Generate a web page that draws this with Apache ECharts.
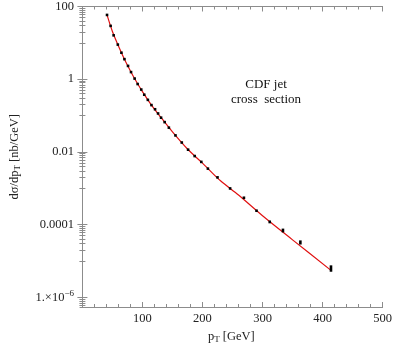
<!DOCTYPE html>
<html>
<head>
<meta charset="utf-8">
<script src="https://cdn.jsdelivr.net/npm/echarts@6/dist/echarts.min.js"></script>
<style>
  html, body { margin: 0; padding: 0; background: #fff; }
  #chart { width: 395px; height: 349px; }
</style>
</head>
<body>
<div id="chart"></div>
<script>
// CDF inclusive jet data points (pT in GeV, dsigma/dpT in nb/GeV)
const ptData = [41, 47, 52, 59, 65, 70, 76, 81, 87, 92, 98, 103, 109, 115, 121, 126, 131, 137, 144,
  155, 165.5, 176, 187, 198, 209, 225, 246, 269, 290, 312, 334, 363, 414];
const xsData = [58.6, 29.3, 16.1, 8.95, 5.35, 3.56, 2.32, 1.57, 1.04, 0.736, 0.519, 0.374, 0.270,
  0.194, 0.149, 0.114, 0.0873, 0.0659, 0.0464, 0.0284, 0.0181, 0.0115, 0.00768, 0.00531, 0.00346,
  0.00199, 0.000988, 0.000548, 0.000241, 0.000119, 6.92e-5, 3.25e-5, 6.3e-6];
// relative error (drawn as the height of the black marks)
const errData = [0, 0, 0, 0, 0, 0, 0, 0, 0, 0, 0, 0, 0, 0, 0, 0, 0, 0, 0,
  0, 0, 0, 0, 0, 0, 0, 0.04, 0.07, 0.07, 0.09, 0.12, 0.13, 0.2];

// theory curve (red)
const ptCurve = [41, 50, 60, 70, 80, 90, 100, 115, 130, 150, 175, 200, 230, 260, 300, 350, 414];
const xsCurve = [58.6, 20.5, 8.2, 3.56, 1.69, 0.847, 0.455, 0.194, 0.0922, 0.0355, 0.0120,
  0.00491, 0.0016, 0.00065, 0.000175, 3.8e-5, 5.5e-6];

// ticks
const xLabelTicks = [100, 200, 300, 400, 500];
const xMajorTicks = [0, 100, 200, 300, 400, 500];
const xMinorTicks = [20, 40, 60, 80, 120, 140, 160, 180, 220, 240, 260, 280, 320, 340, 360, 380, 420, 440, 460, 480];
const yLabelTicks = [1e-6, 1e-4, 1e-2, 1, 100];
const yMinorTicks = [];
[-7, -5, -3, -1, 1].forEach(p => {
  for (let j = 1; j <= 9; j++) {
    const v = j * Math.pow(10, p);
    if (v > 5.4e-7 && v < 100) yMinorTicks.push(v);
  }
});

const X_MIN = -4, X_MAX = 500, Y_MIN = 5.4e-7, Y_MAX = 100;
const frameColor = "#8c8c8c";
const font = "Liberation Serif";

const chart = echarts.init(document.getElementById("chart"));

function xAx(pos, ticks, len, labels, line) {
  return {
    type: "value", position: pos, min: X_MIN, max: X_MAX,
    splitLine: { show: false },
    axisLine: { show: line, lineStyle: { color: frameColor, width: 1 } },
    axisTick: { show: true, inside: true, length: len, customValues: ticks, lineStyle: { color: frameColor } },
    axisLabel: labels ? {
      show: true, customValues: xLabelTicks, margin: 5,
      color: "#222", fontFamily: font, fontSize: 12.5
    } : { show: false }
  };
}

function yAx(pos, ticks, len, labels, line) {
  return {
    type: "log", logBase: 10, position: pos, min: Y_MIN, max: Y_MAX,
    splitLine: { show: false },
    axisLine: { show: line, lineStyle: { color: frameColor, width: 1 } },
    axisTick: { show: true, inside: true, length: len, customValues: ticks, lineStyle: { color: frameColor } },
    axisLabel: labels ? {
      show: true, customValues: yLabelTicks, margin: 6,
      color: "#222", fontFamily: font, fontSize: 12.5,
      formatter: v => {
        const p = Math.round(Math.log10(v));
        if (p === 2) return "100";
        if (p === 0) return "1";
        if (p === -2) return "0.01";
        if (p === -4) return "0.0001";
        return "{a|1.×10}{s|−6}";
      },
      rich: {
        a: { fontFamily: font, fontSize: 12.5, color: "#222" },
        s: { fontFamily: font, fontSize: 9, color: "#222", verticalAlign: "bottom", padding: [0, 0, 7, 0] }
      }
    } : { show: false }
  };
}

const xAxes = [
  xAx("bottom", xMajorTicks, 5, true, true),
  xAx("bottom", xMinorTicks, 3, false, false),
  xAx("top", xMajorTicks, 5, false, true),
  xAx("top", xMinorTicks, 3, false, false)
];
xAxes[0].name = "p{sub|T} [GeV]";
xAxes[0].nameLocation = "middle";
xAxes[0].nameGap = 22;
xAxes[0].nameTextStyle = {
  fontFamily: font, fontSize: 12.5, color: "#222",
  rich: { sub: { fontFamily: font, fontSize: 9, color: "#222", verticalAlign: "top", padding: [6, 0, 0, 0] } }
};

const yAxes = [
  yAx("left", yLabelTicks, 5, true, true),
  yAx("left", yMinorTicks, 3, false, false),
  yAx("right", yLabelTicks, 5, false, true),
  yAx("right", yMinorTicks, 3, false, false)
];
yAxes[0].name = "dσ/dp{sub|T} [nb/GeV]";
yAxes[0].nameLocation = "middle";
yAxes[0].nameGap = 58;
yAxes[0].nameTextStyle = {
  fontFamily: font, fontSize: 12.5, color: "#222",
  rich: { sub: { fontFamily: font, fontSize: 9, color: "#222", verticalAlign: "top", padding: [6, 0, 0, 0] } }
};

chart.setOption({
  animation: false,
  backgroundColor: "#fff",
  grid: { left: 73, right: 11, top: 5, bottom: 33, containLabel: false },
  xAxis: xAxes,
  yAxis: yAxes,
  graphic: [
    { type: "text", x: 266, y: 85, style: { text: "CDF jet", fontFamily: font, fontSize: 13, fill: "#111", textAlign: "center", textVerticalAlign: "middle" } },
    { type: "text", x: 266, y: 100, style: { text: "cross  section", fontFamily: font, fontSize: 13, fill: "#111", textAlign: "center", textVerticalAlign: "middle" } }
  ],
  series: [
    {
      type: "line",
      xAxisIndex: 0, yAxisIndex: 0,
      data: ptCurve.map((p, i) => [p, xsCurve[i]]),
      smooth: 0.3,
      showSymbol: false,
      lineStyle: { color: "#e01010", width: 1.2 },
      z: 2
    },
    {
      type: "custom",
      xAxisIndex: 0, yAxisIndex: 0,
      data: ptData.map((p, i) => [p, xsData[i], errData[i]]),
      encode: { x: 0, y: 1 },
      renderItem: (params, api) => {
        const x = api.value(0), y = api.value(1), e = api.value(2);
        const top = api.coord([x, y * (1 + e)]);
        const bot = api.coord([x, y * (1 - e)]);
        let h = bot[1] - top[1];
        let ty = top[1];
        if (h < 2.6) { ty = (top[1] + bot[1]) / 2 - 1.3; h = 2.6; }
        return {
          type: "rect",
          shape: { x: top[0] - 1.3, y: ty, width: 2.6, height: h },
          style: { fill: "#000" }
        };
      },
      z: 3
    }
  ]
});
</script>
</body>
</html>
